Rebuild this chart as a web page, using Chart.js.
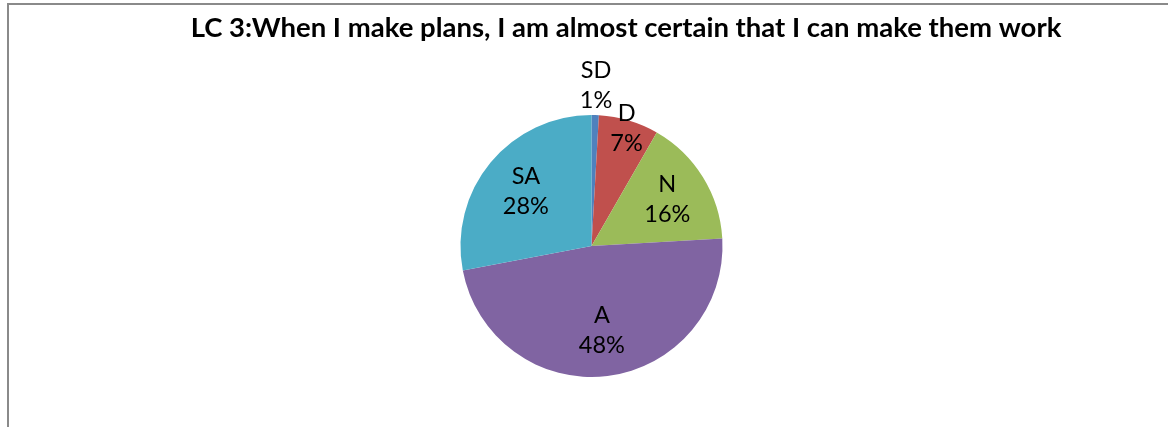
<!DOCTYPE html>
<html>
<head>
<meta charset="utf-8">
<script src="https://cdn.jsdelivr.net/npm/chart.js@4/dist/chart.umd.min.js"></script>
<style>
  html, body { margin: 0; padding: 0; background: #fff; overflow: hidden; width: 1168px; height: 427px; }
  #frame { position: absolute; left: 7px; top: 3px; width: 1300px; height: 500px;
           border-left: 2px solid #8a8a8a; border-top: 2px solid #8a8a8a; }
  #wrap { position: absolute; left: 7px; top: 0px; width: 1238px; height: 427px; }
</style>
</head>
<body>
<div id="frame"></div>
<div id="wrap"><canvas id="c" width="1238" height="427"></canvas></div>
<script>
const chartTitle = "LC 3:When I make plans, I am almost certain that I can make them work";
const categories = ["SD", "D", "N", "A", "SA"];
const percentValues = [0.9, 7.4, 15.8, 47.9, 28.0];
const percentLabels = ["1%", "7%", "16%", "48%", "28%"];
const sliceColors = ["#4F81BD", "#C0504D", "#9BBB59", "#8064A2", "#4BACC6"];

const labelFont = '23.5px Lato, "Liberation Sans", sans-serif';
const titleFont = 'bold 27.5px Lato, "Liberation Sans", sans-serif';

const pieLabels = {
  id: 'pieLabels',
  afterDatasetsDraw(chart, args, opts) {
    const ctx = chart.ctx;
    const meta = chart.getDatasetMeta(0);
    ctx.save();
    ctx.fillStyle = '#000';
    ctx.textAlign = 'center';
    ctx.textBaseline = 'middle';
    // title, centred over the whole (wider) chart box
    ctx.font = titleFont;
    ctx.fillText(chartTitle, chart.width / 2, opts.titleY);
    ctx.font = labelFont;
    meta.data.forEach((arc, i) => {
      const p = arc.getProps(['x', 'y', 'startAngle', 'endAngle', 'outerRadius'], true);
      const mid = (p.startAngle + p.endAngle) / 2;
      const r = p.outerRadius * opts.radial[i];
      const cx = p.x + Math.cos(mid) * r;
      const cy = p.y + Math.sin(mid) * r;
      ctx.fillText(categories[i], cx, cy - opts.lineGap / 2);
      ctx.fillText(percentLabels[i], cx, cy + opts.lineGap / 2);
    });
    ctx.restore();
  }
};

new Chart(document.getElementById('c'), {
  type: 'pie',
  data: {
    labels: categories,
    datasets: [{
      data: percentValues,
      backgroundColor: sliceColors,
      borderWidth: 0
    }]
  },
  options: {
    responsive: false,
    animation: false,
    layout: { padding: { left: 0, right: 69, top: 115, bottom: 50 } },
    plugins: {
      legend: { display: false },
      tooltip: { enabled: false },
      title: { display: false },
      pieLabels: {
        radial: [1.23, 0.94, 0.68, 0.65, 0.65],
        lineGap: 30,
        titleY: 28
      }
    }
  },
  plugins: [pieLabels]
});
</script>
</body>
</html>
